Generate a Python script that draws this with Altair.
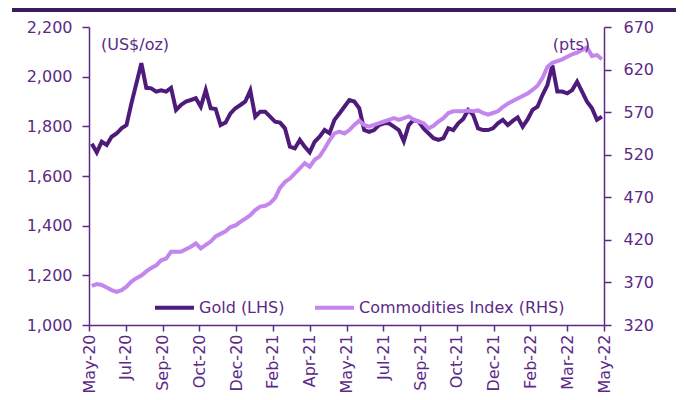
import altair as alt
import pandas as pd

# ---- data (weekly readings from the reference) ----
dates = pd.date_range("2020-05-28", periods=104, freq="7D").strftime("%Y-%m-%d").tolist()

gold = [1730, 1695, 1738, 1725, 1758, 1771, 1792, 1805, 1893, 1973,
        2054, 1955, 1953, 1940, 1945, 1940, 1955, 1866, 1886, 1900,
        1906, 1913, 1879, 1946, 1873, 1870, 1805, 1815, 1852, 1873,
        1886, 1900, 1945, 1839, 1859, 1859, 1839, 1819, 1815, 1792,
        1718, 1711, 1745, 1718, 1695, 1738, 1758, 1785, 1772, 1826,
        1852, 1879, 1906, 1900, 1873, 1785, 1778, 1785, 1805, 1812,
        1812, 1799, 1785, 1740, 1805, 1826, 1819, 1792, 1772, 1752,
        1745, 1752, 1792, 1785, 1812, 1830, 1866, 1846, 1792, 1785,
        1785, 1792, 1812, 1826, 1805, 1822, 1836, 1799, 1828, 1866,
        1879, 1926, 1966, 2045, 1940, 1940, 1933, 1946, 1980, 1940,
        1899, 1873, 1826, 1839]

commodities = [366, 368, 367, 364, 361, 359, 361, 365, 371, 375,
               378, 383, 387, 390, 396, 398, 406, 406, 406, 409,
               412, 416, 410, 414, 418, 424, 427, 430, 435, 437,
               441, 445, 449, 455, 459, 460, 463, 469, 481, 488,
               492, 498, 504, 510, 506, 514, 518, 527, 537, 545,
               547, 545, 549, 555, 560, 555, 553, 555, 557, 559,
               561, 563, 561, 563, 565, 561, 559, 557, 551, 554,
               559, 563, 569, 571, 571, 571, 572, 571, 572, 569,
               567, 569, 571, 576, 580, 583, 586, 589, 592, 596,
               601, 610, 623, 628, 630, 632, 635, 638, 640, 643,
               646, 636, 637, 632]

series_names = ["Gold (LHS)", "Commodities Index (RHS)"]
tick_labels = ["May-20", "Jul-20", "Sep-20", "Oct-20", "Dec-20", "Feb-21", "Apr-21",
               "May-21", "Jul-21", "Sep-21", "Oct-21", "Dec-21", "Feb-22", "Mar-22", "May-22"]
tick_dates = pd.date_range("2020-05-24", periods=len(tick_labels), freq="52D")
left_ticks = [1000, 1200, 1400, 1600, 1800, 2000, 2200]
right_ticks = [320, 370, 420, 470, 520, 570, 620, 670]

# ---- styling ----
FONT = "DejaVu Sans"
TXT = "#5b2a86"
GOLD_C = "#4f1b7b"
COMM_C = "#c386ec"
BAR_C = "#3c1b5c"

tick_ms = [int(t.value // 1_000_000) for t in tick_dates]

df = pd.DataFrame({
    "date": dates, "gold": gold, "comm": commodities,
    "s_gold": series_names[0], "s_comm": series_names[1],
})

color_scale = alt.Scale(domain=series_names, range=[GOLD_C, COMM_C])
legend = alt.Legend(
    orient="none", legendX=64, legendY=259, direction="horizontal", title=None,
    symbolType="stroke", symbolSize=1521, symbolStrokeWidth=4,
    labelFont=FONT, labelFontSize=16, labelColor=TXT, labelOffset=3,
    labelLimit=400, columnPadding=22, padding=0,
)

x_enc = alt.X(
    "date:T",
    scale=alt.Scale(type="utc", domain=[tick_ms[0], tick_ms[-1]]),
    axis=alt.Axis(values=tick_ms, format="%b-%y", labelAngle=-90, title=None,
                  tickSize=6, labelPadding=3, labelBaseline="middle", labelAlign="right"),
)

gold_line = alt.Chart(df).mark_line(strokeWidth=4).encode(
    x=x_enc,
    y=alt.Y("gold:Q",
            scale=alt.Scale(domain=[1000, 2200], nice=False, zero=False),
            axis=alt.Axis(values=left_ticks, format=",d", orient="left", title=None,
                          tickSize=7, labelPadding=10)),
    color=alt.Color("s_gold:N", scale=color_scale, legend=legend),
)

comm_line = alt.Chart(df).mark_line(strokeWidth=4).encode(
    x=x_enc,
    y=alt.Y("comm:Q",
            scale=alt.Scale(domain=[320, 670], nice=False, zero=False),
            axis=alt.Axis(values=right_ticks, format="d", orient="right", title=None,
                          tickSize=7, labelPadding=12)),
    color=alt.Color("s_comm:N", scale=color_scale, legend=legend),
)

unit_df = pd.DataFrame({"t": ["x"]})
unit_left = alt.Chart(unit_df).mark_text(
    text="(US$/oz)", font=FONT, fontSize=16, color=TXT, align="left", baseline="middle"
).encode(x=alt.value(12), y=alt.value(18))
unit_right = alt.Chart(unit_df).mark_text(
    text="(pts)", font=FONT, fontSize=16, color=TXT, align="right", baseline="middle"
).encode(x=alt.value(501), y=alt.value(18))
top_bar = alt.Chart(unit_df).mark_rule(color=BAR_C, strokeWidth=4).encode(
    x=alt.value(-77), x2=alt.value(587), y=alt.value(-17)
)

chart = (
    alt.layer(gold_line, comm_line, unit_left, unit_right, top_bar)
    .resolve_scale(y="independent")
    .properties(
        width=515, height=298,
        autosize=alt.AutoSizeParams(type="none"),
        padding={"left": 81, "top": 19, "right": 72, "bottom": 67},
        background="white",
    )
    .configure_view(stroke=None)
    .configure_axis(
        grid=False, domainColor=TXT, tickColor=TXT, labelColor=TXT,
        domainWidth=1.5, tickWidth=1.5, labelFont=FONT, labelFontSize=16,
    )
)

chart.save("out.html", embed_options={"renderer": "svg", "actions": False})
